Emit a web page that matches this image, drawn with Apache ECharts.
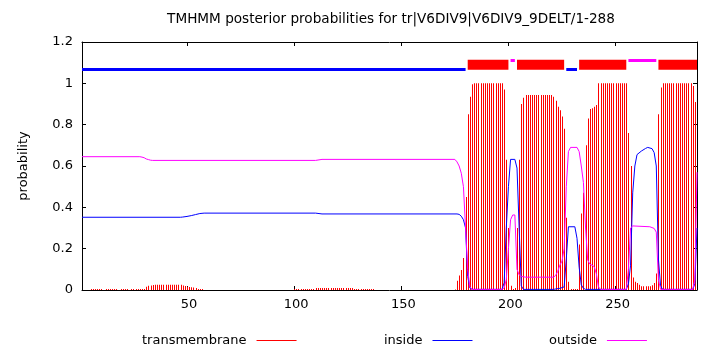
<!DOCTYPE html>
<html><head><meta charset="utf-8">
<script src="https://cdn.jsdelivr.net/npm/echarts@6/dist/echarts.min.js"></script>
<style>html,body{margin:0;padding:0;background:#fff}#c{width:710px;height:350px}</style>
</head><body><div id="c"></div>
<script>
const titleText = 'TMHMM posterior probabilities for tr|V6DIV9|V6DIV9_9DELT/1-288';
const xTicks = [50, 100, 150, 200, 250];
const yTicks = [0, 0.2, 0.4, 0.6, 0.8, 1, 1.2];
const seriesNames = ['transmembrane', 'inside', 'outside'];

// transmembrane probability, residues 1..288
const tmProb = [
0,0,0,0,0.005,0.005,0.005,0.005,0.005,0.005,
0,0.005,0.005,0.005,0.005,0.005,0.005,0,0.005,0.005,
0.005,0.005,0,0.005,0.005,0.005,0.005,0.005,0.005,0.005,
0.016,0.021,0.022,0.024,0.026,0.026,0.026,0.026,0.026,0.026,
0.026,0.026,0.026,0.026,0.026,0.026,0.025,0.022,0.019,0.016,
0.015,0.013,0.012,0.01,0.005,0.005,0.005,0,0,0,
0,0,0,0,0,0,0,0,0,0,
0,0,0,0,0,0,0,0,0,0,
0,0,0,0,0,0,0,0,0,0,
0,0,0,0,0,0,0,0,0,0.005,
0.005,0.005,0.005,0.005,0.005,0.005,0.005,0.005,0.005,0.01,
0.01,0.01,0.01,0.01,0.01,0.01,0.01,0.01,0.01,0.01,
0.01,0.01,0.01,0.01,0.01,0.01,0.01,0.005,0.005,0.005,
0.005,0.005,0.005,0.005,0.005,0.005,0.005,0,0,0,
0,0,0,0,0,0,0,0,0,0,
0,0,0,0,0,0,0,0,0,0,
0,0,0,0,0,0,0,0,0,0,
0,0,0,0,0.003,0.045,0.07,0.097,0.155,0.45,
0.85,0.935,0.995,1,1,1,1,1,1,1,
1,1,1,1,1,1,1,0.97,0.63,0.3,
0.02,0.005,0.01,0.3,0.63,0.9,0.93,0.944,0.944,0.944,
0.944,0.944,0.944,0.944,0.944,0.944,0.944,0.944,0.944,0.944,
0.935,0.916,0.887,0.87,0.84,0.78,0.35,0.04,0.005,0.005,
0.005,0.005,0.22,0.37,0.47,0.7,0.83,0.876,0.88,0.887,
0.895,1,1,1,1,1,1,1,1,1,
1,1,1,1,1,0.76,0.6,0.06,0.04,0.034,
0.026,0.018,0.018,0.018,0.018,0.018,0.023,0.034,0.08,0.85,
0.98,1,1,1,1,1,1,1,1,1,
1,1,1,1,1,0.987,0.91,0.57
];

// inside probability [residue, value] where the curve changes
const insideProb = [
[1,0.352],[47,0.352],[48,0.353],[50,0.356],[52,0.36],[54,0.365],[56,0.37],[58,0.372],[110,0.372],[113,0.368],
[176,0.368],[177,0.366],[178,0.357],[179,0.34],[180,0.3],[181,0.065],[182,0.01],[183,0.003],[197,0.003],
[198,0.035],[199,0.3],[200,0.5],[201,0.632],[203,0.632],[204,0.59],[205,0.3],[206,0.02],[207,0.003],
[221,0.003],[224,0.008],[226,0.015],[227,0.15],[228,0.306],[231,0.306],[232,0.25],[233,0.11],[234,0.025],
[235,0.008],[236,0.003],[255,0.003],[256,0.03],[257,0.12],[258,0.47],[259,0.6],[260,0.655],[262,0.672],
[264,0.685],[265,0.69],[267,0.684],[268,0.665],[269,0.6],[270,0.15],[271,0.02],[272,0.003],[286,0.003],
[287,0.03],[288,0.3]
];

// outside probability [residue, value] where the curve changes
const outsideProb = [
[1,0.645],[28,0.645],[29,0.643],[30,0.64],[31,0.634],[32,0.631],[33,0.628],[34,0.627],[110,0.627],[113,0.632],
[175,0.632],[176,0.62],[177,0.6],[178,0.565],[179,0.5],[180,0.3],[181,0.1],[182,0.015],[183,0.003],[197,0.003],
[198,0.01],[199,0.05],[200,0.2],[201,0.34],[202,0.363],[203,0.363],[204,0.1],[205,0.073],[206,0.066],[208,0.062],
[221,0.062],[222,0.07],[223,0.09],[224,0.12],[225,0.14],[226,0.2],[227,0.5],[228,0.67],[229,0.69],[232,0.69],
[233,0.67],[234,0.6],[235,0.52],[236,0.3],[237,0.145],[238,0.125],[239,0.12],[240,0.113],[241,0.08],[242,0.015],
[243,0.003],[255,0.003],[256,0.1],[257,0.3],[258,0.31],[266,0.306],[268,0.298],[269,0.28],[270,0.05],[271,0.003],
[286,0.003],[287,0.05],[288,0.57]
];

// predicted topology (residue ranges) and the band levels they are drawn at
const tmSegments = [[181,200],[204,226],[233,255],[270,288]];
const insideSegments = [[1,180],[227,232]];
const outsideSegments = [[201,203],[256,269]];
const tmLevel = 1.09;
const insideLevel = 1.067;
const outsideLevel = 1.111;

const RED = '#ff0000', BLUE = '#0000ff', MAGENTA = '#ff00ff';
const FONT = 'DejaVu Sans';

function bandSeries(segs, level, color, width) {
  return segs.map(s => ({
    type: 'line', data: [[s[0], level], [s[1], level]], symbol: 'none', silent: true,
    lineStyle: { color: color, width: width, cap: 'butt' }, z: 6
  }));
}

const chart = echarts.init(document.getElementById('c'), null, { renderer: 'canvas' });
const axisText = { color: '#000', fontFamily: FONT, fontSize: 13 };
const legendText = { fontFamily: FONT, fontSize: 13, color: '#000', padding: [0, 5, 0, 0] };

const option = {
  animation: false,
  backgroundColor: '#fff',
  textStyle: { fontFamily: FONT, color: '#000' },
  title: {
    text: titleText, left: 391, top: 12, textAlign: 'center', padding: 0,
    textStyle: { fontFamily: FONT, fontSize: 13.6, fontWeight: 'normal', color: '#000' }
  },
  grid: { left: 82, right: 13, top: 42, bottom: 60, containLabel: false, outerBoundsMode: 'none' },
  xAxis: [
    { type: 'value', min: 1, max: 288, position: 'bottom',
      axisLine: { show: true, onZero: false, lineStyle: { color: '#000', width: 1 } },
      axisTick: { show: true, inside: true, length: 4, customValues: xTicks, lineStyle: { color: '#000' } },
      axisLabel: Object.assign({ customValues: xTicks, margin: 8, padding: [0, 0, 0, 4] }, axisText),
      splitLine: { show: false } },
    { type: 'value', min: 1, max: 288, position: 'top',
      axisLine: { show: true, onZero: false, lineStyle: { color: '#000', width: 1 } },
      axisTick: { show: true, inside: true, length: 4, customValues: xTicks, lineStyle: { color: '#000' } },
      axisLabel: { show: false }, splitLine: { show: false } }
  ],
  yAxis: [
    { type: 'value', min: 0, max: 1.2, interval: 0.2, position: 'left',
      name: 'probability', nameLocation: 'middle', nameRotate: 90, nameGap: 52,
      nameTextStyle: { fontFamily: FONT, fontSize: 13, color: '#000' },
      axisLine: { show: true, onZero: false, lineStyle: { color: '#000', width: 1 } },
      axisTick: { show: true, inside: true, length: 4, lineStyle: { color: '#000' } },
      axisLabel: Object.assign({ margin: 9, formatter: v => String(Math.round(v * 10) / 10) }, axisText),
      splitLine: { show: false } },
    { type: 'value', min: 0, max: 1.2, interval: 0.2, position: 'right',
      axisLine: { show: true, onZero: false, lineStyle: { color: '#000', width: 1 } },
      axisTick: { show: true, inside: true, length: 4, lineStyle: { color: '#000' } },
      axisLabel: { show: false }, splitLine: { show: false } }
  ],
  legend: [
    { data: [{ name: seriesNames[0], icon: 'rect' }], left: 142, top: 334, padding: 0, align: 'right',
      itemWidth: 40, itemHeight: 1, textStyle: legendText },
    { data: [{ name: seriesNames[1], icon: 'rect' }], left: 384, top: 334, padding: 0, align: 'right',
      itemWidth: 40, itemHeight: 1, textStyle: legendText },
    { data: [{ name: seriesNames[2], icon: 'rect' }], left: 549, top: 334, padding: 0, align: 'right',
      itemWidth: 40, itemHeight: 1, textStyle: legendText }
  ],
  series: [
    { name: seriesNames[0], type: 'custom', clip: true, z: 2,
      itemStyle: { color: RED },
      data: tmProb.map((v, i) => [i + 1, v]),
      renderItem: function (params, api) {
        const x = api.value(0), v = api.value(1);
        if (!v) return null;
        const b = api.coord([x, 0]);
        const t = api.coord([x, v]);
        return { type: 'rect', shape: { x: Math.round(b[0]), y: t[1], width: 1, height: b[1] - t[1] },
                 style: { fill: RED } };
      } },
    { name: seriesNames[1], type: 'line', data: insideProb, symbol: 'none', color: BLUE,
      lineStyle: { color: BLUE, width: 1 }, z: 3 },
    { name: seriesNames[2], type: 'line', data: outsideProb, symbol: 'none', color: MAGENTA,
      lineStyle: { color: MAGENTA, width: 1 }, z: 4 }
  ].concat(bandSeries(insideSegments, insideLevel, BLUE, 3))
   .concat(bandSeries(outsideSegments, outsideLevel, MAGENTA, 3))
   .concat(bandSeries(tmSegments, tmLevel, RED, 10))
};
chart.setOption(option);
</script></body></html>
